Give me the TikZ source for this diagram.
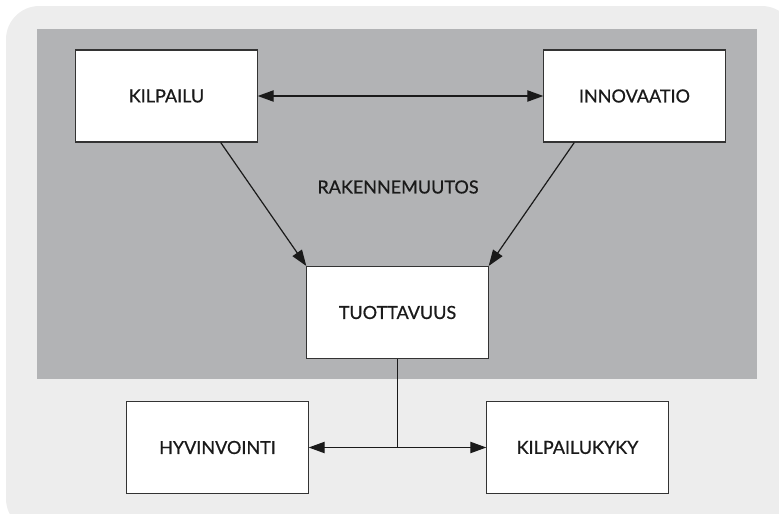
\documentclass[tikz,border=0pt]{standalone}
\usepackage{fontspec}
\setmainfont{Lato}
\newfontfamily\labelfont{Lato}[FakeBold=0.7]
\usetikzlibrary{arrows.meta}
\definecolor{panel}{HTML}{EDEDED}
\definecolor{zone}{HTML}{B2B3B5}
\definecolor{edge}{HTML}{333333}
\definecolor{ink}{HTML}{1A1A1A}
\begin{document}
\begin{tikzpicture}[x=0.75pt,y=-0.75pt,
  lbl/.style={font=\labelfont\fontsize{13.5}{15}\selectfont,text=ink},
  box/.style={draw=edge,line width=0.8pt,fill=white,minimum width=136pt,minimum height=69pt,
    inner sep=0pt,lbl},
  link/.style={draw=ink,line width=0.9pt},
  tip/.style={-{Triangle[length=12pt,width=8.5pt]}},
  both/.style={{Triangle[length=12pt,width=8.5pt]}-{Triangle[length=12pt,width=8.5pt]}}]
  \useasboundingbox (0,0) rectangle (779,514);
  % outer panel and shaded zone
  \fill[panel,rounded corners=25] (6,6) rectangle (795,532);
  \fill[zone] (37,29) rectangle (757,379);
  % boxes
  \node[box] (kil) at (166.5,96) {KILPAILU};
  \node[box] (inn) at (634.5,96) {INNOVAATIO};
  \node[box] (tuo) at (397.5,312.5) {TUOTTAVUUS};
  \node[box] (hyv) at (217.5,447.5) {HYVINVOINTI};
  \node[box] (kyk) at (577.5,447.5) {KILPAILUKYKY};
  \node[lbl] (rak) at (398,187) {RAKENNEMUUTOS};
  % connectors
  \draw[link,both] (kil.east) -- (inn.west);
  \draw[link,tip] (kil.south east) ++(-37,0) coordinate (k1) -- (tuo.north west);
  \draw[link,tip] (inn.south west) ++(31,0) coordinate (i1) -- (tuo.north east);
  \coordinate (fork) at (tuo.south |- hyv.east);
  \draw[link] (tuo.south) -- (fork);
  \draw[link,tip] (fork) -- (hyv.east);
  \draw[link,tip] (fork) -- (kyk.west);
\end{tikzpicture}
\end{document}
